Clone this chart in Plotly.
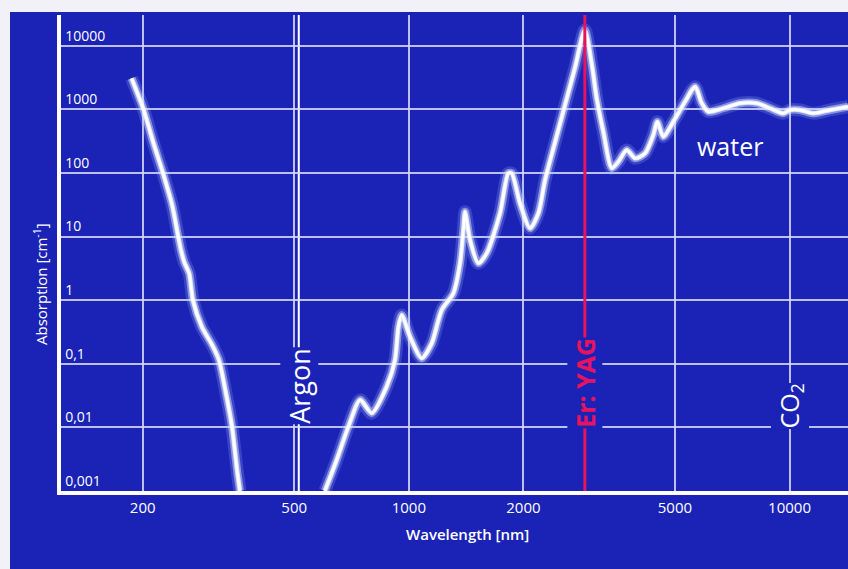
import numpy as np
import plotly.graph_objects as go

# ---- data ----
uv_wavelength = [187, 201, 213, 226, 239, 248, 252, 257, 265, 271, 286, 304, 317, 331, 343, 354, 360]
uv_absorption = [3080, 1000, 307, 100, 31, 9.9, 6.2, 4.0, 2.6, 1.0, 0.38, 0.2, 0.115, 0.034, 0.0105, 0.0021, 0.001]

water_wavelength = [602, 647, 694, 745, 799, 875, 920, 939, 958, 1007, 1081, 1149, 1220, 1309, 1363,
                    1391, 1405, 1448, 1522, 1602, 1736, 1825, 1863, 1959, 2082, 2189, 2280, 2421, 2572,
                    2733, 2900, 3029, 3115, 3243, 3412, 3551, 3736, 3929, 4174, 4388, 4496, 4662,
                    4952, 5316, 5648, 5881, 6118, 6699, 7413, 8200, 8887, 9632, 10030, 10656, 11547,
                    12774, 14250]
water_absorption = [0.001, 0.0031, 0.0103, 0.027, 0.0167, 0.044, 0.115, 0.38, 0.585, 0.267, 0.122, 0.21,
                    0.70, 1.28, 3.8, 12.7, 24.6, 8.85, 3.8, 5.46, 23.2, 99, 99, 33.4, 13.5, 23.2, 77.6,
                    302, 1172, 4560, 17700, 4810, 1495, 446, 118.6, 150, 230, 170, 204, 396, 641,
                    372, 641, 1321, 2275, 1248, 920, 1041, 1248, 1248, 1041, 868, 979, 979, 868, 979, 1103]

x_ticks = [200, 500, 1000, 2000, 5000, 10000]
x_tick_labels = ["200", "500", "1000", "2000", "5000", "10000"]
y_ticks = [0.001, 0.01, 0.1, 1, 10, 100, 1000, 10000]
y_tick_labels = ["0,001", "0,01", "0,1", "1", "10", "100", "1000", "10000"]

laser_names = ["Argon", "Er: YAG", "CO<sub>2</sub>"]
laser_wavelengths = [514, 2900, 10000]

BLUE = "#1b23b6"
GRID = "rgba(215,220,250,0.85)"
RED = "#e8135f"
LIGHT = "#f2f1f8"

W, H = 848, 569
L, R, T, B = 61, 0, 15, 78
PW, PH = W - L - R, H - T - B


def px_x(p):
    return (p - L) / PW


def px_y(p):
    return (H - B - p) / PH


fig = go.Figure()
glow = [(13, "rgba(160,180,255,0.22)"), (8, "rgba(215,225,255,0.5)"),
        (4.5, "rgba(240,244,255,0.85)"), (2.6, "white")]
for xs, ys in [(uv_wavelength, uv_absorption), (water_wavelength, water_absorption)]:
    for w, c in glow:
        fig.add_trace(go.Scatter(x=xs, y=ys, mode="lines",
                                 line=dict(color=c, width=w, shape="spline", smoothing=0.7),
                                 hoverinfo="skip", showlegend=False))

fig.update_layout(
    width=W, height=H,
    margin=dict(l=L, r=R, t=T, b=B, autoexpand=False),
    paper_bgcolor=BLUE, plot_bgcolor=BLUE,
    showlegend=False,
    font=dict(family="Open Sans", color="white"),
)
fig.update_xaxes(type="log", range=[2.0864, 4.1536], tickvals=x_ticks, ticktext=x_tick_labels,
                 showgrid=True, gridcolor=GRID, gridwidth=1.5, zeroline=False, automargin=False,
                 showline=True, linecolor="white", linewidth=4, ticks="",
                 tickfont=dict(size=15, color="white"))
fig.update_yaxes(type="log", range=[-3.002, 4.484], tickvals=y_ticks, ticktext=y_tick_labels,
                 showgrid=True, gridcolor=GRID, gridwidth=1.5, zeroline=False, automargin=False,
                 showline=True, linecolor="white", linewidth=4, ticks="",
                 ticklabelposition="inside", ticklabelshift=-10, ticklabelstandoff=4,
                 tickfont=dict(size=14, color="white"))

shapes = [
    # light margins of the scan
    dict(type="rect", xref="paper", yref="paper", x0=px_x(0), x1=1.0, y0=px_y(12), y1=px_y(-5),
         fillcolor=LIGHT, line=dict(width=0), layer="above"),
    dict(type="rect", xref="paper", yref="paper", x0=px_x(-5), x1=px_x(10), y0=px_y(575), y1=px_y(-5),
         fillcolor=LIGHT, line=dict(width=0), layer="above"),
    # laser lines
    dict(type="line", xref="x", yref="paper", x0=laser_wavelengths[0], x1=laser_wavelengths[0],
         y0=0, y1=1, line=dict(color="white", width=2), layer="below"),
    dict(type="line", xref="x", yref="paper", x0=laser_wavelengths[1], x1=laser_wavelengths[1],
         y0=0, y1=1, line=dict(color=RED, width=3), layer="above"),
]
fig.update_layout(shapes=shapes)

common = dict(showarrow=False, xanchor="center", yanchor="middle")
annotations = [
    dict(x=np.log10(laser_wavelengths[0]), xref="x", y=px_y(386), yref="paper", text=laser_names[0],
         textangle=-90, bgcolor=BLUE, borderpad=0,
         font=dict(size=27, color="white"), **common),
    dict(x=np.log10(laser_wavelengths[1]), xref="x", y=px_y(383), yref="paper",
         text="<b>" + laser_names[1] + "</b>",
         textangle=-90, bgcolor=BLUE, borderpad=0,
         font=dict(size=25, color=RED), **common),
    dict(x=np.log10(laser_wavelengths[2]), xref="x", y=px_y(406), yref="paper", text=laser_names[2],
         textangle=-90, bgcolor=BLUE, borderpad=0,
         font=dict(size=25, color="white"), **common),
    dict(x=px_x(730), xref="paper", y=px_y(146), yref="paper", text="water",
         font=dict(size=25, color="white"), **common),
    dict(x=px_x(40), xref="paper", y=px_y(284), yref="paper", text="Absorption [cm<sup>-1</sup>]",
         textangle=-90, font=dict(size=15, color="white"), **common),
    dict(x=px_x(467), xref="paper", y=px_y(534), yref="paper", text="Wavelength [nm]",
         font=dict(size=15, color="white", weight=600), **common),
]
fig.update_layout(annotations=annotations)

fig.write_html("out.html", config={"displayModeBar": False},
               post_script="document.body.style.margin='0';document.body.style.padding='0';")
